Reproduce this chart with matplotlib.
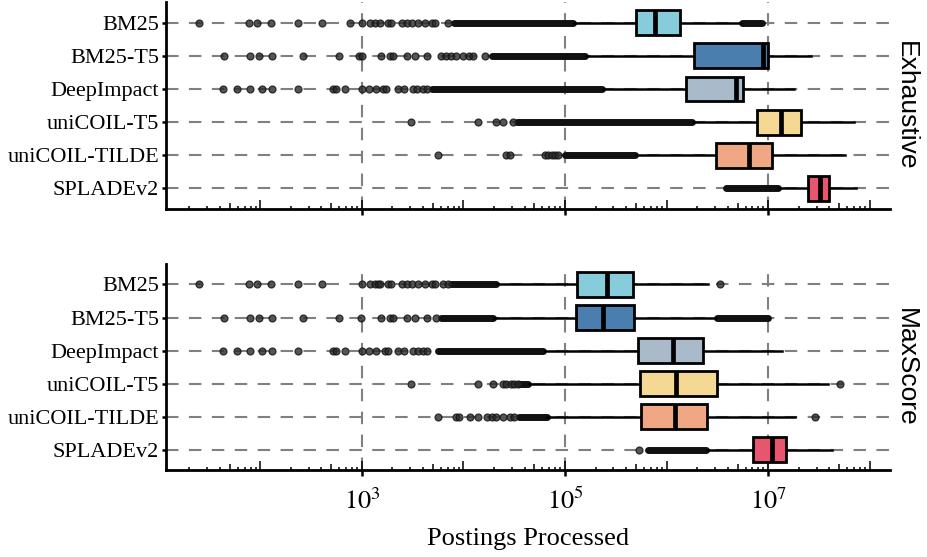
import matplotlib
matplotlib.use('Agg')
import matplotlib.pyplot as plt
import matplotlib.transforms as mtransforms
import numpy as np

plt.rcParams['font.family'] = 'Liberation Serif'
plt.rcParams['mathtext.fontset'] = 'stix'

# all values are log10(postings processed)
methods = ["BM25", "BM25-T5", "DeepImpact", "uniCOIL-T5", "uniCOIL-TILDE", "SPLADEv2"]
colors = ["#86CCDB", "#4A7EAF", "#A9BACB", "#F5D893", "#F0A783", "#E8556F"]

# Exhaustive
exh_q1 = [5.70, 6.27, 6.19, 6.89, 6.49, 7.39]
exh_med = [5.89, 6.95, 6.68, 7.13, 6.81, 7.51]
exh_q3 = [6.13, 7.00, 6.75, 7.32, 7.04, 7.60]
exh_lo = [5.09, 5.21, 5.37, 6.26, 5.70, 7.11]
exh_hi = [6.73, 7.42, 7.26, 7.85, 7.76, 7.87]
exh_pts = [
    [1.40, 1.89, 1.97, 2.10, 2.37, 2.61, 2.88, 3.00, 3.08, 3.13, 3.18, 3.26, 3.29,
     3.39, 3.44, 3.49, 3.55, 3.62, 3.69, 3.72, 3.85],
    [1.64, 1.90, 1.99, 2.11, 2.42, 2.77, 2.97, 3.00, 3.19, 3.28, 3.31, 3.44, 3.52,
     3.64, 3.78, 3.83, 3.88, 3.93, 4.00, 4.05, 4.09, 4.21],
    [1.63, 1.77, 1.90, 2.02, 2.11, 2.37, 2.72, 2.74, 2.83, 3.00, 3.07, 3.14, 3.21,
     3.24, 3.36, 3.41, 3.50, 3.54, 3.60, 3.64],
    [3.48, 4.14, 4.32, 4.39, 4.49],
    [3.75, 4.42, 4.46, 4.80, 4.83, 4.87, 4.90, 4.93],
    [],
]
exh_dense = [
    [(3.91, 5.08), (6.74, 6.94)],
    [(4.28, 5.20)],
    [(3.69, 5.36)],
    [(4.53, 6.25)],
    [(5.00, 5.69)],
    [(6.59, 7.10)],
]

# MaxScore
ms_q1 = [5.12, 5.11, 5.72, 5.74, 5.75, 6.85]
ms_med = [5.41, 5.37, 6.06, 6.09, 6.08, 7.04]
ms_q3 = [5.67, 5.68, 6.36, 6.50, 6.40, 7.18]
ms_lo = [4.33, 4.30, 4.80, 4.65, 4.82, 6.40]
ms_hi = [6.41, 6.49, 7.14, 7.59, 7.27, 7.63]
ms_pts = [
    [1.40, 1.89, 1.97, 2.10, 2.37, 2.61, 3.00, 3.08, 3.13, 3.16, 3.18, 3.26, 3.29,
     3.39, 3.44, 3.49, 3.55, 3.62, 3.69, 3.72, 3.80, 3.85, 6.53],
    [1.64, 1.90, 1.99, 2.11, 2.42, 2.77, 2.99, 3.19, 3.28, 3.31, 3.44, 3.52, 3.64, 3.73],
    [1.63, 1.77, 1.90, 2.02, 2.11, 2.37, 2.72, 2.74, 2.83, 3.00, 3.07, 3.14, 3.23,
     3.26, 3.36, 3.41, 3.50, 3.55, 3.60, 3.64],
    [3.48, 4.14, 4.29, 4.39, 4.42, 4.47, 4.50, 4.54, 7.71],
    [3.75, 3.93, 3.96, 4.06, 4.14, 4.23, 4.28, 4.32, 4.39, 4.46, 4.50, 7.46],
    [5.73],
]
ms_dense = [
    [(3.88, 4.32)],
    [(3.78, 4.29), (6.50, 7.00)],
    [(3.75, 4.78)],
    [(4.55, 4.64)],
    [(4.55, 4.82)],
    [(5.82, 6.39)],
]

grid_kw = dict(color='#808080', lw=1.5, ls=(0, (6, 5)), zorder=0)


def panel(ax, q1, med, q3, lo, hi, pts, dense, strip, show_x):
    ypos = np.arange(1, len(methods) + 1)
    ax.set_xscale('log')
    ax.set_xlim(10**1.07, 10**8.2)
    ax.set_ylim(6.62, 0.38)

    for y in ypos:
        ax.axhline(y, **grid_kw)
    for x in [1e3, 1e5, 1e7]:
        ax.axvline(x, **grid_kw)

    # outliers
    for i, y in enumerate(ypos):
        for a, b in dense[i]:
            lc = ax.hlines(y, 10**a, 10**b, color='#111111', lw=5.0, zorder=2)
            lc.set_capstyle('round')
        if pts[i]:
            ax.plot(10**np.array(pts[i]), [y] * len(pts[i]), 'o', ms=5.0,
                    mfc='#2a2a2a', mec='#111111', mew=0.9, alpha=0.8, zorder=2)

    stats = []
    for i in range(len(methods)):
        stats.append(dict(med=10**med[i], q1=10**q1[i], q3=10**q3[i],
                          whislo=10**lo[i], whishi=10**hi[i], fliers=[]))
    bp = ax.bxp(stats, positions=ypos, widths=0.75, orientation='horizontal',
                patch_artist=True, showcaps=False, showfliers=False,
                boxprops=dict(edgecolor='black', linewidth=2.0),
                medianprops=dict(color='black', linewidth=3.4, solid_capstyle='butt'),
                whiskerprops=dict(color='black', linewidth=1.8),
                manage_ticks=False)
    for patch, c in zip(bp['boxes'], colors):
        patch.set_facecolor(c)
        patch.set_zorder(3)
    for m in bp['medians']:
        m.set_zorder(4)

    # log ticks inside the panel
    trans = mtransforms.blended_transform_factory(ax.transData, ax.transAxes)
    x0, x1 = ax.get_xlim()
    for k in range(1, 9):
        for m in range(1, 10):
            x = m * 10**k
            if x < x0 or x > x1:
                continue
            h = 0.042 if m == 1 else (0.028 if m == 5 else 0.016)
            ax.plot([x, x], [0, h], transform=trans, color='black', lw=1.1,
                    solid_capstyle='butt', zorder=5)

    ax.set_yticks(ypos)
    ax.set_yticklabels(methods, fontsize=16)
    ax.set_xticks([1e3, 1e5, 1e7])
    ax.xaxis.set_minor_locator(matplotlib.ticker.NullLocator())
    if show_x:
        ax.set_xticklabels(['$10^{3}$', '$10^{5}$', '$10^{7}$'], fontsize=19)
    else:
        ax.set_xticklabels([])
    ax.tick_params(axis='x', direction='out', length=4, width=1.8, pad=9)
    ax.tick_params(axis='y', direction='out', length=3, width=1.8, pad=2)

    for s in ['top', 'right']:
        ax.spines[s].set_visible(False)
    for s in ['left', 'bottom']:
        ax.spines[s].set_linewidth(2.0)
        ax.spines[s].set_zorder(6)

    ax.text(1.022, 0.5, strip, transform=ax.transAxes, rotation=270,
            va='center', ha='center', fontsize=19, family='Liberation Sans')


fig = plt.figure(figsize=(9.27, 5.57), dpi=100)
ax_top = fig.add_axes([0.179, 0.625, 0.781, 0.371])
ax_bot = fig.add_axes([0.179, 0.156, 0.781, 0.370])

panel(ax_top, exh_q1, exh_med, exh_q3, exh_lo, exh_hi, exh_pts, exh_dense, 'Exhaustive', False)
panel(ax_bot, ms_q1, ms_med, ms_q3, ms_lo, ms_hi, ms_pts, ms_dense, 'MaxScore', True)
ax_bot.set_xlabel('Postings Processed', fontsize=19, labelpad=10)

fig.savefig('out.png', dpi=100)
